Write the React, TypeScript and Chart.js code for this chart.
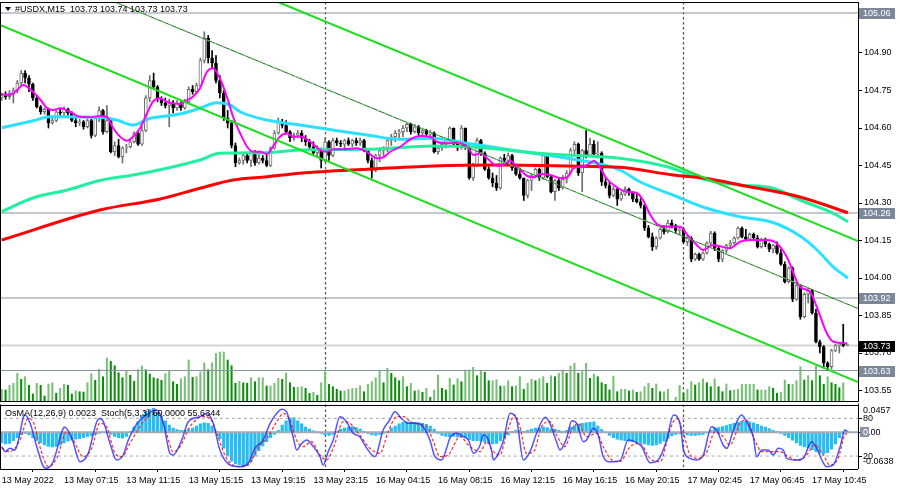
import React, { useEffect, useRef } from 'react';
import { Chart, registerables } from 'chart.js';

Chart.register(...registerables);

// ---------- price bars (M15) ----------
const opens = [
  104.72,104.73,104.725,104.735,104.75,104.78,104.82,104.80,104.775,104.72,
  104.685,104.665,104.675,104.62,104.63,104.665,104.66,104.675,104.66,104.63,
  104.62,104.625,104.605,104.63,104.57,104.64,104.67,104.585,104.63,104.505,
  104.53,104.485,104.52,104.525,104.545,104.58,104.535,104.59,104.72,104.79,
  104.765,104.715,104.70,104.69,104.70,104.68,104.70,104.68,104.705,104.755,
  104.745,104.77,104.87,104.96,104.88,104.86,104.79,104.74,104.64,104.62,
  104.53,104.46,104.47,104.49,104.47,104.50,104.46,104.48,104.47,104.45,
  104.52,104.58,104.625,104.61,104.585,104.56,104.57,104.58,104.56,104.545,
  104.525,104.50,104.515,104.47,104.545,104.49,104.55,104.54,104.535,104.55,
  104.535,104.55,104.54,104.55,104.51,104.47,104.43,104.49,104.51,104.515,
  104.55,104.565,104.58,104.585,104.60,104.615,104.585,104.605,104.58,104.59,
  104.575,104.58,104.505,104.52,104.535,104.55,104.60,104.535,104.52,104.60,
  104.525,104.40,104.45,104.55,104.50,104.435,104.40,104.38,104.36,104.48,
  104.47,104.49,104.44,104.415,104.40,104.33,104.39,104.41,104.435,104.40,
  104.49,104.405,104.345,104.39,104.36,104.395,104.42,104.51,104.535,104.42,
  104.51,104.49,104.535,104.495,104.50,104.385,104.37,104.33,104.355,104.315,
  104.335,104.355,104.34,104.315,104.305,104.29,104.20,104.165,104.125,104.16,
  104.195,104.185,104.22,104.21,104.19,104.195,104.145,104.16,104.075,104.095,
  104.075,104.10,104.14,104.18,104.12,104.075,104.11,104.13,104.14,104.16,
  104.20,104.165,104.155,104.175,104.16,104.125,104.15,104.135,104.115,104.13,
  104.10,104.055,103.985,104.04,103.915,103.97,103.845,103.935,103.95,103.86,
  103.745,103.725,103.66,103.645,103.71,103.73,103.735,103.73,
];
const highs = [
  104.74,104.745,104.75,104.76,104.79,104.83,104.83,104.81,104.78,104.73,
  104.69,104.68,104.68,104.64,104.67,104.68,104.685,104.68,104.665,104.64,
  104.635,104.63,104.635,104.635,104.645,104.685,104.675,104.69,104.635,104.545,
  104.555,104.525,104.535,104.555,104.585,104.585,104.605,104.73,104.81,104.82,
  104.77,104.725,104.72,104.715,104.71,104.71,104.705,104.715,104.765,104.77,
  104.78,104.88,104.985,104.97,104.91,104.89,104.81,104.75,104.67,104.63,
  104.54,104.48,104.50,104.495,104.51,104.51,104.50,104.49,104.50,104.525,
  104.59,104.64,104.635,104.63,104.59,104.58,104.59,104.59,104.57,104.555,
  104.545,104.53,104.52,104.56,104.55,104.56,104.56,104.55,104.555,104.56,
  104.555,104.56,104.56,104.555,104.515,104.48,104.495,104.52,104.525,104.56,
  104.575,104.59,104.595,104.61,104.62,104.62,104.615,104.61,104.60,104.595,
  104.59,104.585,104.53,104.545,104.56,104.605,104.60,104.55,104.61,104.60,
  104.53,104.46,104.56,104.555,104.505,104.445,104.42,104.41,104.485,104.495,
  104.50,104.495,104.455,104.44,104.40,104.395,104.415,104.44,104.44,104.50,
  104.495,104.41,104.395,104.40,104.41,104.43,104.52,104.545,104.54,104.515,
  104.59,104.56,104.55,104.545,104.505,104.40,104.385,104.365,104.36,104.345,
  104.365,104.36,104.345,104.335,104.32,104.295,104.21,104.18,104.165,104.20,
  104.21,104.232,104.232,104.215,104.205,104.20,104.165,104.165,104.10,104.10,
  104.105,104.145,104.187,104.185,104.125,104.115,104.135,104.15,104.165,104.205,
  104.205,104.195,104.18,104.18,104.17,104.16,104.16,104.14,104.135,104.145,
  104.115,104.065,104.045,104.045,103.98,103.975,103.94,103.96,103.955,103.875,
  103.752,103.73,103.665,103.715,103.735,103.74,103.815,103.735,
];
const lows = [
  104.71,104.715,104.715,104.70,104.74,104.77,104.78,104.745,104.71,104.68,
  104.655,104.655,104.60,104.615,104.625,104.65,104.65,104.65,104.625,104.605,
  104.61,104.595,104.60,104.56,104.565,104.625,104.575,104.58,104.50,104.49,
  104.48,104.46,104.50,104.52,104.54,104.53,104.53,104.585,104.705,104.755,
  104.705,104.69,104.68,104.605,104.66,104.67,104.67,104.675,104.70,104.735,
  104.74,104.765,104.86,104.86,104.84,104.78,104.72,104.63,104.60,104.52,
  104.445,104.455,104.455,104.46,104.445,104.45,104.455,104.46,104.445,104.445,
  104.515,104.575,104.60,104.575,104.545,104.55,104.56,104.545,104.53,104.515,
  104.495,104.485,104.44,104.465,104.47,104.485,104.53,104.525,104.52,104.53,
  104.525,104.53,104.53,104.505,104.46,104.40,104.425,104.465,104.49,104.505,
  104.53,104.545,104.555,104.565,104.585,104.575,104.58,104.57,104.57,104.565,
  104.555,104.50,104.495,104.51,104.52,104.545,104.53,104.51,104.515,104.515,
  104.395,104.39,104.445,104.49,104.43,104.395,104.365,104.35,104.355,104.455,
  104.455,104.43,104.41,104.395,104.31,104.32,104.35,104.40,104.39,104.395,
  104.40,104.34,104.31,104.35,104.355,104.38,104.415,104.49,104.41,104.345,
  104.48,104.485,104.49,104.48,104.37,104.36,104.32,104.325,104.29,104.31,
  104.33,104.33,104.305,104.30,104.28,104.19,104.16,104.11,104.115,104.155,
  104.175,104.18,104.20,104.18,104.175,104.14,104.13,104.065,104.07,104.07,
  104.07,104.095,104.13,104.11,104.065,104.065,104.10,104.12,104.135,104.155,
  104.16,104.15,104.15,104.15,104.12,104.12,104.125,104.105,104.10,104.095,
  104.05,103.98,103.98,103.905,103.91,103.835,103.84,103.90,103.855,103.74,
  103.70,103.645,103.63,103.635,103.705,103.70,103.725,103.73,
];
const closes = [
  104.73,104.725,104.74,104.75,104.78,104.82,104.80,104.775,104.72,104.685,
  104.665,104.675,104.62,104.63,104.665,104.66,104.675,104.66,104.63,104.62,
  104.625,104.605,104.63,104.57,104.64,104.67,104.585,104.63,104.505,104.53,
  104.485,104.52,104.525,104.545,104.58,104.535,104.59,104.72,104.79,104.765,
  104.715,104.70,104.69,104.70,104.68,104.70,104.68,104.705,104.755,104.745,
  104.77,104.87,104.96,104.88,104.86,104.79,104.74,104.64,104.62,104.53,
  104.46,104.47,104.49,104.47,104.50,104.46,104.48,104.47,104.45,104.52,
  104.58,104.625,104.61,104.585,104.56,104.57,104.58,104.56,104.545,104.525,
  104.50,104.515,104.47,104.545,104.49,104.55,104.54,104.535,104.55,104.535,
  104.55,104.54,104.55,104.51,104.47,104.43,104.49,104.51,104.515,104.55,
  104.565,104.58,104.585,104.60,104.615,104.585,104.605,104.58,104.59,104.575,
  104.58,104.505,104.52,104.535,104.55,104.60,104.535,104.52,104.60,104.525,
  104.40,104.45,104.55,104.50,104.435,104.40,104.38,104.36,104.48,104.47,
  104.49,104.44,104.415,104.40,104.33,104.39,104.41,104.435,104.40,104.49,
  104.405,104.345,104.39,104.36,104.395,104.42,104.51,104.535,104.42,104.51,
  104.49,104.535,104.495,104.50,104.385,104.37,104.33,104.355,104.315,104.335,
  104.355,104.34,104.315,104.305,104.29,104.20,104.165,104.125,104.16,104.195,
  104.185,104.22,104.21,104.19,104.195,104.145,104.16,104.075,104.095,104.075,
  104.10,104.14,104.18,104.12,104.075,104.11,104.13,104.14,104.16,104.20,
  104.165,104.155,104.175,104.16,104.125,104.15,104.135,104.115,104.13,104.10,
  104.055,103.985,104.04,103.915,103.97,103.845,103.935,103.95,103.86,103.745,
  103.725,103.66,103.645,103.71,103.73,103.735,103.73,103.73,
];
const volumes = [
  127,120,167,187,287,227,253,167,80,187,
  167,60,180,193,87,137,177,167,80,113,
  103,100,193,283,217,327,253,440,407,363,
  293,243,310,267,207,323,360,323,280,243,
  233,217,283,310,203,177,233,253,420,247,
  253,300,390,323,393,487,500,500,420,363,
  187,207,193,187,243,203,243,243,160,160,
  187,237,227,290,193,147,147,
  153,137,87,97,67,193,303,177,153,127,
  110,110,127,137,137,163,103,177,203,243,
  310,193,337,287,243,213,253,153,187,110,
  120,97,137,47,120,270,137,120,237,170,
  233,203,320,320,347,263,310,297,213,213,
  223,160,160,213,153,163,253,127,187,227,
  213,233,253,187,263,253,287,320,287,360,
  387,287,303,387,237,280,253,
  193,177,120,260,103,127,127,110,120,97,
  103,153,187,137,180,103,103,127,7,47,
  167,87,127,203,170,193,230,193,153,230,
  153,103,180,113,120,127,177,177,177,177,
  120,120,120,153,137,87,97,220,177,177,
  213,353,220,263,213,360,263,177,253,193,
  177,143,193,7,
];

// ---------- moving averages: [bar, price] ----------
const maFast = [
  [0,104.735],[2,104.732],[4,104.752],[5.5,104.772],[8,104.745],[10,104.712],[11.6,104.68],[13.2,104.672],
  [15,104.679],[17.5,104.665],[20,104.645],[22.7,104.643],[25.2,104.648],[27,104.644],[28.6,104.60],
  [30.4,104.565],[32.2,104.549],[33.7,104.565],[35.5,104.599],[37.3,104.659],[38.8,104.705],[40.6,104.719],
  [42.4,104.705],[44,104.699],[45.8,104.696],[47.6,104.712],[49.1,104.725],[50.9,104.759],[52.7,104.825],
  [54.2,104.839],[56,104.799],[57.8,104.725],[59.4,104.645],[61.2,104.579],[63,104.525],[64.5,104.505],
  [66.3,104.505],[68.1,104.496],[69.6,104.525],[71.4,104.565],[73.2,104.579],[74.8,104.565],[76.6,104.566],
  [79.2,104.545],[81.7,104.512],[83.4,104.505],[85.1,104.515],[87.7,104.515],[91.1,104.519],[93.7,104.505],
  [96.3,104.479],[98,104.483],[99.7,104.505],[102.3,104.525],[104.9,104.555],[107.5,104.568],[110,104.565],
  [111.7,104.545],[114.3,104.539],[116.9,104.541],[119.5,104.525],[121.2,104.492],[122.9,104.499],
  [124.6,104.479],[127.2,104.448],[128.9,104.456],[130.6,104.468],[132.3,104.445],[134.9,104.408],
  [136.6,104.403],[138.3,104.416],[140.8,104.412],[143.4,104.399],[145.1,104.403],[146.8,104.439],
  [148.6,104.445],[150.3,104.452],[152,104.469],[153.5,104.444],[155.2,104.399],[157.7,104.365],
  [160.3,104.345],[162.9,104.341],[164.6,104.312],[166.5,104.252],[168.5,104.212],[171.5,104.205],
  [174.1,104.205],[176,104.172],[178.4,104.132],[180.1,104.112],[182.6,104.132],[186.9,104.119],
  [189.5,104.145],[192.1,104.152],[196.4,104.152],[198.9,104.139],[201.5,104.085],[204.9,103.965],
  [207.5,103.945],[209.2,103.885],[211.8,103.779],[213.5,103.745],[217,103.739],
];
const maMid = [
  [0,104.601],[8.1,104.629],[12.4,104.645],[16.7,104.645],[25.2,104.643],[29.5,104.632],[33.8,104.612],
  [38.1,104.639],[42.4,104.648],[46.6,104.659],[50.9,104.679],[55.2,104.701],[58.6,104.692],[61.2,104.665],
  [68,104.632],[76.6,104.612],[85,104.592],[93.8,104.572],[102.2,104.555],[110.7,104.559],[119.4,104.539],
  [127.9,104.519],[136.4,104.499],[145.1,104.479],[153.6,104.456],[158.7,104.432],[163.8,104.385],
  [172.3,104.332],[181,104.279],[189.5,104.245],[198,104.222],[204.9,104.168],[209.3,104.112],
  [213.4,104.045],[217.2,103.999],
];
const maSlow = [
  [0,104.266],[8,104.32],[16.8,104.352],[25.2,104.39],[33.7,104.412],[42.4,104.439],[50.9,104.472],
  [56,104.499],[68.1,104.501],[76.6,104.512],[93.8,104.515],[110.7,104.528],[119.4,104.525],
  [127.9,104.515],[136.4,104.501],[145.1,104.492],[153.6,104.485],[158.7,104.479],[170.8,104.445],
  [181,104.392],[189.5,104.372],[198,104.359],[204.9,104.312],[213.4,104.259],[217.2,104.225],
];
const maLong = [
  [0,104.152],[25.2,104.272],[40.7,104.316],[50.9,104.359],[59.4,104.392],[68.1,104.405],[76.6,104.419],
  [93.8,104.435],[110.7,104.448],[127.9,104.452],[145.1,104.448],[158.7,104.443],[172.3,104.412],
  [181,104.398],[189.5,104.372],[204.9,104.324],[217.2,104.261],
];

// ---------- channel (trend lines) ----------
const channelUpper = [[70.92,105.104],[219.8,104.148]];
const channelMid = [[27.8,105.112],[219.8,103.878]];
const channelLower = [[-0.44,105.012],[219.8,103.584]];

// ---------- horizontal levels ----------
const levelPrices = [105.06, 104.26, 103.92, 103.63];
const bidPrice = 103.73;
const priceTicks = [103.55,103.70,103.85,104.00,104.15,104.30,104.45,104.60,104.75,104.90];

// ---------- time axis ----------
const timeTickBars = [0,16,32,48,64,80,96,112,128,144,160,176,192,208];
const timeTickLabels = [
  '13 May 2022','13 May 07:15','13 May 11:15','13 May 15:15','13 May 19:15','13 May 23:15',
  '16 May 04:15','16 May 08:15','16 May 12:15','16 May 16:15','16 May 20:15','17 May 02:45',
  '17 May 06:45','17 May 10:45',
];
const separatorBars = [83, 175];

// ---------- OsMA(12,26,9) ----------
const osma = [
  -0.020,-0.022,-0.021,-0.016,-0.010,-0.004,-0.002,-0.005,-0.010,-0.016,
  -0.020,-0.024,-0.027,-0.028,-0.027,-0.024,-0.020,-0.017,-0.015,-0.013,
  -0.012,-0.010,-0.008,-0.007,-0.004,-0.002,0.001,-0.001,-0.004,-0.008,
  -0.010,-0.011,-0.008,0.002,0.010,0.020,0.032,0.040,0.044,0.0457,
  0.038,0.031,0.022,0.014,0.008,0.005,0.004,0.004,0.005,0.008,
  0.012,0.016,0.018,0.017,0.012,0.002,-0.012,-0.030,-0.045,-0.055,
  -0.060,-0.062,-0.0638,-0.063,-0.055,-0.045,-0.035,-0.026,-0.018,-0.010,
  -0.004,0.004,0.014,0.022,0.027,0.028,0.022,0.016,0.010,0.006,
  0.003,0.001,-0.002,-0.005,-0.006,-0.004,0.002,0.006,0.008,0.010,
  0.011,0.009,0.006,0.002,-0.002,-0.005,-0.006,-0.004,-0.002,0.002,
  0.008,0.012,0.016,0.019,0.020,0.020,0.019,0.018,0.017,0.015,
  0.012,0.006,-0.002,-0.006,-0.008,-0.009,-0.008,-0.009,-0.008,-0.010,
  -0.014,-0.016,-0.016,-0.017,-0.019,-0.021,-0.022,-0.021,-0.016,-0.010,
  -0.005,0.002,0.004,0.004,0.002,0.004,0.006,0.008,0.008,0.010,
  0.009,0.006,0.006,0.004,0.002,0.004,0.010,0.013,0.015,0.017,
  0.018,0.019,0.020,0.012,0.005,0.001,-0.006,-0.010,-0.013,-0.015,
  -0.016,-0.017,-0.018,-0.019,-0.020,-0.022,-0.024,-0.025,-0.024,-0.021,
  -0.017,-0.012,-0.007,-0.004,-0.002,-0.003,-0.005,-0.006,-0.006,-0.005,
  -0.004,-0.001,0.004,0.008,0.009,0.011,0.013,0.015,0.017,0.019,
  0.021,0.021,0.020,0.018,0.015,0.012,0.010,0.007,0.004,0.002,
  -0.002,-0.006,-0.010,-0.015,-0.020,-0.025,-0.028,-0.030,-0.033,-0.037,
  -0.040,-0.041,-0.039,-0.032,-0.022,-0.010,-0.003,0.0023,
];

// ---------- Stochastic(5,3,3): [bar, value] ----------
const stochMain = [
  [0,34.9],[0.9,27.0],[2.1,32.3],[3.4,29.6],[4.3,45.5],[5.6,82.7],[6.0,85.4],[7.3,72.1],[9.0,34.9],
  [10.7,3.1],[11.5,0.4],[13.2,11.0],[15.8,64.1],[16.2,65.7],[18.0,48.2],[20.1,11.0],[22.2,24.3],
  [24.4,74.7],[25.2,80.0],[26.1,74.7],[27.8,40.2],[29.5,13.7],[31.2,21.7],[32.5,45.5],[34.2,66.8],
  [35.5,77.4],[37.2,85.4],[38.9,92.3],[39.8,93.3],[41.5,72.1],[43.2,24.3],[44.0,21.7],[46.2,45.5],
  [47.9,74.7],[50.9,82.7],[52.6,88.0],[54.3,72.1],[56.0,29.6],[58.6,5.7],[61.2,3.1],[63.3,8.4],
  [65.0,32.3],[67.1,45.5],[68.9,72.1],[70.6,88.0],[71.9,94.4],[73.1,90.7],[74.8,50.8],[75.7,29.6],
  [77.0,40.2],[78.3,45.5],[80.0,34.9],[81.7,19.0],[82.5,5.7],[83.8,27.0],[85.1,45.5],[86.8,82.7],
  [88.5,74.7],[90.2,56.2],[91.9,50.8],[93.7,32.3],[95.8,19.0],[97.9,61.5],[99.6,77.4],[100.9,90.7],
  [102.6,80.0],[104.4,72.1],[106.5,72.1],[108.2,66.8],[109.9,45.5],[111.2,19.0],[112.9,13.7],
  [114.2,32.3],[115.0,48.2],[116.8,56.2],[118.5,50.8],[119.8,45.5],[121.1,24.3],[122.8,37.6],
  [123.6,53.5],[124.5,50.8],[125.8,27.0],[126.2,13.7],[127.5,24.3],[128.8,45.5],[130.5,88.0],
  [131.3,86.9],[132.2,77.4],[133.9,13.7],[135.6,27.0],[137.3,56.2],[139.5,81.6],[140.7,72.1],
  [142.4,42.9],[143.3,29.6],[145.0,48.2],[146.3,76.3],[147.6,72.1],[149.3,42.9],[150.1,45.5],
  [151.9,64.1],[153.1,53.5],[154.4,19.0],[156.1,11.0],[158.7,12.6],[160.8,45.5],[162.5,42.9],
  [164.3,34.9],[166.4,9.4],[168.5,13.7],[170.7,45.5],[172.4,85.4],[174.1,72.1],[175.0,29.6],
  [176.7,16.3],[178.4,13.7],[180.1,21.7],[182.2,66.8],[183.5,61.5],[185.2,37.6],[186.1,32.3],
  [187.8,61.5],[189.9,85.4],[191.2,74.7],[192.9,50.8],[193.8,19.0],[195.1,29.6],[196.8,29.6],
  [198.0,21.7],[199.3,32.3],[200.6,29.6],[201.5,16.3],[204.0,13.7],[205.7,16.3],[207.9,42.9],
  [209.2,32.3],[210.5,13.7],[211.7,3.1],[213.4,5.7],[215.2,34.9],[216.4,61.5],[217,60.0],
];
const stochSignal = [
  [0,32.3],[2.1,27.0],[4.7,45.5],[6.8,80.0],[8.1,74.7],[9.8,34.9],[12.0,3.1],[14.1,16.3],[16.7,58.8],
  [18.4,45.5],[20.9,19.0],[23.1,32.3],[25.2,72.1],[26.9,66.8],[29.1,24.3],[30.8,19.0],[32.9,40.2],
  [35.5,66.8],[38.1,85.4],[40.2,88.0],[42.3,56.2],[44.0,27.0],[45.8,34.9],[48.3,66.8],[51.7,82.7],
  [53.5,80.0],[55.2,56.2],[57.7,16.3],[61.2,3.1],[63.7,8.4],[65.9,34.9],[68.0,48.2],[70.6,74.7],
  [72.3,88.0],[74.0,77.4],[75.7,45.5],[77.4,34.9],[79.5,42.9],[81.7,21.7],[83.4,13.7],[85.1,32.3],
  [87.7,74.7],[89.4,72.1],[91.9,53.5],[94.5,32.3],[97.1,24.3],[99.2,58.8],[101.4,82.7],[103.1,82.7],
  [105.6,72.1],[109.1,66.8],[110.8,42.9],[112.5,19.0],[114.6,21.7],[117.6,50.8],[120.2,34.9],
  [122.8,27.0],[124.5,42.9],[126.2,27.0],[127.9,21.7],[129.6,56.2],[131.8,85.4],[133.0,66.8],
  [134.7,24.3],[136.5,27.0],[138.6,66.8],[140.7,74.7],[142.4,53.5],[144.6,34.9],[146.3,61.5],
  [148.0,72.1],[150.1,50.8],[152.7,56.2],[154.4,34.9],[156.6,13.7],[158.7,11.0],[161.3,34.9],
  [163.8,40.2],[166.4,16.3],[169.0,11.0],[171.5,61.5],[173.2,80.0],[175.0,56.2],[176.7,21.7],
  [178.8,16.3],[181.0,27.0],[183.1,58.8],[185.2,50.8],[186.9,37.6],[189.5,72.1],[191.2,77.4],
  [193.3,45.5],[195.1,27.0],[197.2,27.0],[199.8,27.0],[201.9,19.0],[204.5,12.6],[206.6,21.7],
  [208.7,37.6],[210.9,21.7],[212.6,5.7],[214.7,16.3],[216.4,53.5],[217,55.6344],
];
const stochLevels = [80, 20];

// ---------- texts ----------
const headerText = '#USDX,M15  103.73 103.74 103.73 103.73';
const subText = 'OsMA(12,26,9) 0.0023  Stoch(5,3,3) 60.0000 55.6344';

const FONT = "'Liberation Sans', Arial, sans-serif";
const X_MIN = -0.18;
const X_MAX = 219.79;

const pts = (p: number[][]) => p.map(([x, y]) => ({ x, y }));

export default function App() {
  const mainRef = useRef<HTMLCanvasElement>(null);
  const subRef = useRef<HTMLCanvasElement>(null);

  useEffect(() => {
    Chart.defaults.font.family = FONT;
    Chart.defaults.font.size = 9;
    Chart.defaults.color = '#000';

    const idx = opens.map((_, i) => i);
    const bull = idx.map((i) => closes[i] >= opens[i]);
    const BULL_LINE = '#6e6e6e';

    const drawSeparators = (chart: any) => {
      const { ctx, chartArea, scales } = chart;
      ctx.save();
      ctx.strokeStyle = '#555';
      ctx.lineWidth = 1.3;
      ctx.setLineDash([2.5, 2.5]);
      separatorBars.forEach((b) => {
        const x = Math.round(scales.x.getPixelForValue(b)) + 0.5;
        ctx.beginPath();
        ctx.moveTo(x, chartArea.top);
        ctx.lineTo(x, chartArea.bottom);
        ctx.stroke();
      });
      ctx.restore();
    };

    const mainDecor = {
      id: 'mainDecor',
      beforeDatasetsDraw(chart: any) {
        drawSeparators(chart);
      },
      afterDraw(chart: any) {
        const { ctx, chartArea, scales } = chart;
        ctx.save();
        // frame
        ctx.strokeStyle = '#000';
        ctx.lineWidth = 1;
        ctx.beginPath();
        ctx.moveTo(0.5, chartArea.top);
        ctx.lineTo(0.5, chartArea.bottom);
        ctx.moveTo(chartArea.right + 0.5, chartArea.top);
        ctx.lineTo(chartArea.right + 0.5, chartArea.bottom);
        ctx.moveTo(0, chartArea.top + 0.5);
        ctx.lineTo(chartArea.right, chartArea.top + 0.5);
        ctx.moveTo(0, chartArea.bottom - 0.5);
        ctx.lineTo(chartArea.right, chartArea.bottom - 0.5);
        ctx.stroke();
        // header
        ctx.fillStyle = '#000';
        ctx.beginPath();
        ctx.moveTo(5, 7);
        ctx.lineTo(11, 7);
        ctx.lineTo(8, 11);
        ctx.closePath();
        ctx.fill();
        ctx.font = `9px ${FONT}`;
        ctx.textBaseline = 'middle';
        ctx.textAlign = 'left';
        ctx.fillText(headerText, 15, 9.5);
        // price boxes
        const box = (p: number, bg: string) => {
          const y = scales.y.getPixelForValue(p);
          ctx.fillStyle = bg;
          ctx.fillRect(chartArea.right + 1, Math.round(y) - 5, 36, 11);
          ctx.fillStyle = '#fff';
          ctx.fillText(p.toFixed(2), chartArea.right + 5, Math.round(y) + 0.5);
        };
        levelPrices.forEach((p) => box(p, '#7b8898'));
        box(bidPrice, '#000');
        ctx.restore();
      },
    };

    const main = new Chart(mainRef.current!, {
      type: 'bar',
      data: {
        datasets: [
          {
            type: 'line', data: pts(channelUpper), borderColor: '#1edc1e', borderWidth: 2,
            pointRadius: 0, order: 1,
          } as any,
          {
            type: 'line', data: pts(channelLower), borderColor: '#1edc1e', borderWidth: 2,
            pointRadius: 0, order: 1,
          } as any,
          {
            type: 'line', data: pts(channelMid), borderColor: '#3ee83e', borderWidth: 1,
            borderDash: [4, 4], pointRadius: 0, order: 1,
          } as any,
          {
            type: 'line', data: pts(channelMid), borderColor: '#4a4a4a', borderWidth: 1,
            pointRadius: 0, order: 2,
          } as any,
          {
            type: 'line', data: pts(maFast), borderColor: '#ff00ff', borderWidth: 2,
            pointRadius: 0, cubicInterpolationMode: 'monotone', order: 3,
          } as any,
          {
            type: 'line', data: pts(maLong), borderColor: '#ff0000', borderWidth: 3,
            pointRadius: 0, cubicInterpolationMode: 'monotone', order: 4,
          } as any,
          {
            type: 'line', data: pts(maSlow), borderColor: '#22f0a0', borderWidth: 3,
            pointRadius: 0, cubicInterpolationMode: 'monotone', order: 5,
          } as any,
          {
            type: 'line', data: pts(maMid), borderColor: '#2ee0ff', borderWidth: 3,
            pointRadius: 0, cubicInterpolationMode: 'monotone', order: 6,
          } as any,
          {
            type: 'bar',
            data: idx.map((i) => ({ x: i, y: [opens[i], closes[i]] })),
            backgroundColor: idx.map((i) => (bull[i] ? '#ffffff' : '#000000')),
            borderColor: idx.map((i) => (bull[i] ? BULL_LINE : '#000000')),
            borderWidth: 1, borderSkipped: false, barThickness: 3, minBarLength: 1,
            grouped: false, order: 7,
          } as any,
          {
            type: 'bar',
            data: idx.map((i) => ({ x: i, y: [lows[i], highs[i]] })),
            backgroundColor: idx.map((i) => (bull[i] ? BULL_LINE : '#000000')),
            barThickness: 1, grouped: false, order: 8,
          } as any,
          ...levelPrices.map((p) => ({
            type: 'line', data: [{ x: -1, y: p }, { x: 221, y: p }], borderColor: '#8794a3',
            borderWidth: 1.2, pointRadius: 0, order: 9,
          } as any)),
          {
            type: 'line', data: [{ x: -1, y: bidPrice }, { x: 221, y: bidPrice }],
            borderColor: '#d4d4d4', borderWidth: 2, pointRadius: 0, order: 9,
          } as any,
          {
            type: 'bar', yAxisID: 'yVol',
            data: idx.map((i) => ({ x: i, y: volumes[i] })),
            backgroundColor: idx.map((i) => (i > 0 && volumes[i] < volumes[i - 1] ? '#0b8c0b' : '#78c078')),
            barThickness: 1.4, grouped: false, order: 10,
          } as any,
        ],
      },
      options: {
        responsive: false,
        animation: false,
        events: [],
        layout: { padding: { left: 1, top: 2, right: 0, bottom: 2 } },
        plugins: { legend: { display: false }, tooltip: { enabled: false } },
        scales: {
          x: { type: 'linear', min: X_MIN, max: X_MAX, display: false, offset: false },
          y: {
            type: 'linear', position: 'right', min: 103.504, max: 105.104,
            afterBuildTicks: (s: any) => { s.ticks = priceTicks.map((v) => ({ value: v })); },
            afterFit: (s: any) => { s.width = 42; s.paddingTop = 0; s.paddingBottom = 0; },
            ticks: {
              padding: 2, autoSkip: false, color: '#000', font: { size: 9, family: FONT },
              callback: (v: any) => Number(v).toFixed(2),
            },
            grid: { drawOnChartArea: false, drawTicks: true, tickLength: 4, color: '#000' },
            border: { display: false },
          },
          yVol: { type: 'linear', display: false, min: 0, max: 4000 },
        },
      } as any,
      plugins: [mainDecor],
    });

    const subDecor = {
      id: 'subDecor',
      beforeDatasetsDraw(chart: any) {
        drawSeparators(chart);
      },
      afterDraw(chart: any) {
        const { ctx, chartArea, scales } = chart;
        ctx.save();
        ctx.strokeStyle = '#000';
        ctx.lineWidth = 1;
        ctx.beginPath();
        ctx.moveTo(0.5, chartArea.top);
        ctx.lineTo(0.5, chartArea.bottom);
        ctx.moveTo(chartArea.right + 0.5, chartArea.top - 1);
        ctx.lineTo(chartArea.right + 0.5, chartArea.bottom);
        ctx.moveTo(0, Math.round(chartArea.top) + 0.5);
        ctx.lineTo(chartArea.right, Math.round(chartArea.top) + 0.5);
        ctx.moveTo(0, Math.round(chartArea.bottom) + 0.5);
        ctx.lineTo(chartArea.right, Math.round(chartArea.bottom) + 0.5);
        ctx.stroke();
        ctx.font = `9px ${FONT}`;
        ctx.textBaseline = 'middle';
        ctx.textAlign = 'left';
        ctx.fillStyle = '#000';
        ctx.fillText(subText, 5, 11);
        const R = chartArea.right;
        // right scale ticks and labels
        const tick = (y: number) => {
          ctx.beginPath();
          ctx.moveTo(R, Math.round(y) + 0.5);
          ctx.lineTo(R + 4, Math.round(y) + 0.5);
          ctx.stroke();
        };
        const yMax = scales.yO.getPixelForValue(0.0457);
        const yMin = scales.yO.getPixelForValue(-0.0638);
        const y0 = scales.yO.getPixelForValue(0);
        const y80 = scales.yS.getPixelForValue(80);
        const y20 = scales.yS.getPixelForValue(20);
        [y80, y0, y20].forEach(tick);
        ctx.fillText('0.0457', R + 5, yMax + 2.5);
        ctx.fillText('80', R + 5, y80);
        ctx.fillText('20', R + 5, y20);
        ctx.fillText('-0.0638', R + 5, yMin - 4);
        ctx.fillText('0.00', R + 5, y0);
        ctx.fillStyle = '#8a96a3';
        ctx.fillRect(R + 2, Math.round(y0) - 5, 9, 10);
        ctx.fillStyle = '#fff';
        ctx.fillText('0', R + 5, y0);
        ctx.restore();
      },
    };

    const sub = new Chart(subRef.current!, {
      type: 'bar',
      data: {
        datasets: [
          {
            type: 'line', yAxisID: 'yS', data: pts(stochMain), borderColor: 'rgba(40,40,255,0.8)',
            borderWidth: 1.5, pointRadius: 0, cubicInterpolationMode: 'monotone', order: 1,
          } as any,
          {
            type: 'line', yAxisID: 'yS', data: pts(stochSignal), borderColor: '#ff2a2a',
            borderWidth: 1.2, borderDash: [3, 2], pointRadius: 0, cubicInterpolationMode: 'monotone', order: 2,
          } as any,
          ...stochLevels.map((v) => ({
            type: 'line', yAxisID: 'yS', data: [{ x: -1, y: v }, { x: 221, y: v }],
            borderColor: '#a8a8a8', borderWidth: 1, borderDash: [3, 3], pointRadius: 0, order: 3,
          } as any)),
          {
            type: 'line', yAxisID: 'yO', data: [{ x: -1, y: 0 }, { x: 221, y: 0 }],
            borderColor: '#a3abb4', borderWidth: 2, pointRadius: 0, order: 4,
          } as any,
          {
            type: 'bar', yAxisID: 'yO',
            data: idx.map((i) => ({ x: i, y: osma[i] })),
            backgroundColor: '#27bdf2', barThickness: 2.6, grouped: false, order: 5,
          } as any,
        ],
      },
      options: {
        responsive: false,
        animation: false,
        events: [],
        layout: { padding: { left: 1, top: 1.5, right: 42, bottom: 0 } },
        plugins: { legend: { display: false }, tooltip: { enabled: false } },
        scales: {
          x: {
            type: 'linear', min: X_MIN, max: X_MAX, offset: false, position: 'bottom',
            afterBuildTicks: (s: any) => { s.ticks = timeTickBars.map((v) => ({ value: v })); },
            afterFit: (s: any) => { s.height = 19; s.paddingLeft = 0; s.paddingRight = 0; },
            ticks: {
              autoSkip: false, maxRotation: 0, minRotation: 0, align: 'start', padding: 3,
              color: '#000', font: { size: 9, family: FONT },
              callback: (_v: any, i: number) => timeTickLabels[i],
            },
            grid: { drawOnChartArea: false, drawTicks: true, tickLength: 3, color: '#000' },
            border: { display: false },
          },
          yS: { type: 'linear', display: false, min: -0.6, max: 102.1 },
          yO: { type: 'linear', display: false, min: -0.0699, max: 0.053 },
        },
      } as any,
      plugins: [subDecor],
    });

    return () => {
      main.destroy();
      sub.destroy();
    };
  }, []);

  return (
    <div style={{ position: 'absolute', left: 0, top: 0, width: 900, height: 488, background: '#fff' }}>
      <canvas
        ref={mainRef}
        width={900}
        height={404}
        style={{ position: 'absolute', left: 0, top: 0, width: 900, height: 404 }}
      />
      <canvas
        ref={subRef}
        width={900}
        height={85}
        style={{ position: 'absolute', left: 0, top: 403, width: 900, height: 85 }}
      />
    </div>
  );
}
